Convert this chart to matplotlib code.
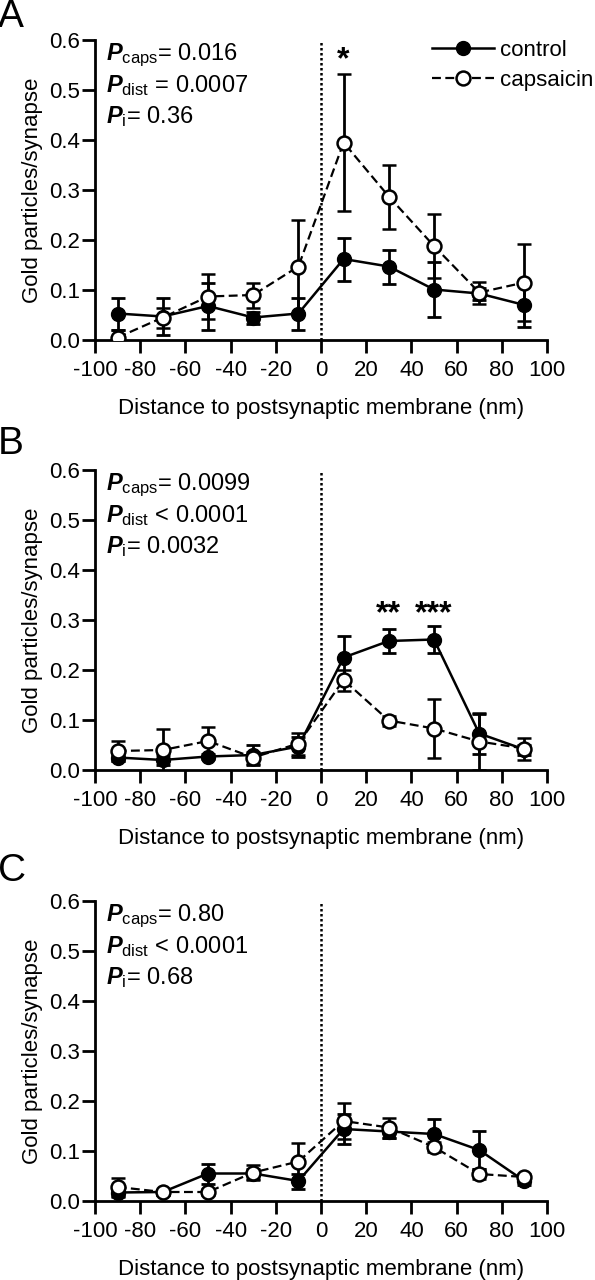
import numpy as np
import matplotlib
matplotlib.use('Agg')
import matplotlib.pyplot as plt
from matplotlib.lines import Line2D

plt.rcParams['font.family'] = ['Liberation Sans', 'DejaVu Sans']
plt.rcParams['mathtext.fontset'] = 'custom'
plt.rcParams['mathtext.rm'] = 'Liberation Sans'
plt.rcParams['mathtext.it'] = 'Liberation Sans:italic:bold'
plt.rcParams['mathtext.bf'] = 'Liberation Sans:bold'
plt.rcParams['axes.unicode_minus'] = False

dist = [-90, -70, -50, -30, -10, 10, 30, 50, 70, 90]

# panel A
ctrl_a = [0.053, 0.047, 0.068, 0.045, 0.053, 0.162, 0.147, 0.101, 0.093, 0.070]
ctrl_a_err = [0.032, 0.037, 0.047, 0.012, 0.032, 0.043, 0.034, 0.055, 0.012, 0.043]
caps_a = [0.005, 0.045, 0.087, 0.090, 0.147, 0.395, 0.287, 0.188, 0.095, 0.115]
caps_a_err = [0.015, 0.020, 0.045, 0.025, 0.093, 0.137, 0.064, 0.064, 0.022, 0.077]

# panel B
ctrl_b = [0.025, 0.020, 0.027, 0.030, 0.047, 0.225, 0.258, 0.261, 0.073, 0.041]
ctrl_b_err = [0.006, 0.010, 0.005, 0.020, 0.020, 0.043, 0.024, 0.027, 0.040, 0.010]
caps_b = [0.038, 0.040, 0.058, 0.025, 0.053, 0.180, 0.099, 0.083, 0.057, 0.043]
caps_b_err = [0.020, 0.043, 0.029, 0.012, 0.022, 0.021, 0.010, 0.059, 0.057, 0.022]

# panel C
ctrl_c = [0.017, 0.018, 0.055, 0.055, 0.040, 0.144, 0.139, 0.134, 0.102, 0.040]
ctrl_c_err = [0.006, 0.005, 0.020, 0.010, 0.015, 0.030, 0.012, 0.031, 0.038, 0.008]
caps_c = [0.028, 0.018, 0.018, 0.057, 0.079, 0.160, 0.147, 0.108, 0.054, 0.048]
caps_c_err = [0.019, 0.005, 0.006, 0.015, 0.038, 0.036, 0.020, 0.010, 0.010, 0.006]

panel_letters = ['A', 'B', 'C']
p_caps = ['= 0.016', '= 0.0099', '= 0.80']
p_dist = [' = 0.0007', ' < 0.0001', ' < 0.0001']
p_int = ['= 0.36', '= 0.0032', '= 0.68']
stars = [[(10, 0.56, '*')], [(30, 0.312, '**'), (50, 0.312, '***')], []]

ctrl_all = [(ctrl_a, ctrl_a_err), (ctrl_b, ctrl_b_err), (ctrl_c, ctrl_c_err)]
caps_all = [(caps_a, caps_a_err), (caps_b, caps_b_err), (caps_c, caps_c_err)]

fig = plt.figure(figsize=(5.95, 12.8), dpi=100)
W, H = 595, 1280
tops = [40, 470, 901]
letter_y = [17, 444, 871]
ax_left, ax_right = 95, 547
dash = (0, (4, 2))

for i in range(3):
    top = tops[i]
    ax = fig.add_axes([ax_left / W, 1 - (top + 300) / H, (ax_right - ax_left) / W, 300 / H])
    c, ce = ctrl_all[i]
    k, ke = caps_all[i]

    ax.axvline(0, ymin=0, ymax=1, color='black', lw=1.8, linestyle=(0, (1, 1)), zorder=1)

    ax.errorbar(dist, c, yerr=ce, color='black', lw=1.8, marker='o', ms=10,
                mfc='black', mec='black', capsize=5, capthick=2, elinewidth=2,
                zorder=3)
    ax.errorbar(dist, k, yerr=ke, color='black', lw=1.6, linestyle=dash,
                marker='o', ms=10, mfc='white', mec='black', mew=1.8,
                capsize=5, capthick=2, elinewidth=2, zorder=4)

    ax.set_xlim(-100, 100)
    ax.set_ylim(0, 0.6)
    ax.set_xticks(np.arange(-100, 101, 20))
    ax.set_yticks(np.arange(0, 0.61, 0.1))
    ax.set_yticklabels(['%.1f' % v for v in np.arange(0, 0.61, 0.1)])
    ax.spines['top'].set_visible(False)
    ax.spines['right'].set_visible(False)
    ax.spines['left'].set_linewidth(2)
    ax.spines['bottom'].set_linewidth(2)
    ax.tick_params(direction='out', length=9.5, width=2, labelsize=16)
    ax.tick_params(axis='x', pad=5)
    ax.tick_params(axis='y', pad=1.5)
    ax.set_xlabel('Distance to postsynaptic membrane (nm)', fontsize=16, labelpad=12)
    ax.set_ylabel('Gold particles/synapse', fontsize=16, labelpad=4)

    ax.text(0.025, 0.995, r'$P_{\mathrm{caps}}$' + p_caps[i], transform=ax.transAxes,
            fontsize=17, va='top', ha='left')
    ax.text(0.025, 0.89, r'$P_{\mathrm{dist}}$' + p_dist[i], transform=ax.transAxes,
            fontsize=17, va='top', ha='left')
    ax.text(0.025, 0.785, r'$P_{\mathrm{i}}$' + p_int[i], transform=ax.transAxes,
            fontsize=17, va='top', ha='left')

    for sx, sy, s in stars[i]:
        ax.text(sx, sy, s, fontsize=23, fontweight='bold', ha='center', va='center')

    fig.text(-0.003, 1 - letter_y[i] / H, panel_letters[i], fontsize=28,
             ha='left', va='center')

    if i == 0:
        handles = [Line2D([], [], color='black', lw=1.8, marker='o', ms=10,
                          mfc='black', mec='black'),
                   Line2D([], [], color='black', lw=1.6, linestyle=dash, marker='o',
                          ms=10, mfc='white', mec='black', mew=1.8)]
        ax.legend(handles, ['control', 'capsaicin'], loc='upper left',
                  bbox_to_anchor=(0.725, 1.03), frameon=False,
                  fontsize=16, handlelength=2.8, handletextpad=0.3,
                  labelspacing=0.4, borderaxespad=0)

fig.savefig('out.png', dpi=100)
